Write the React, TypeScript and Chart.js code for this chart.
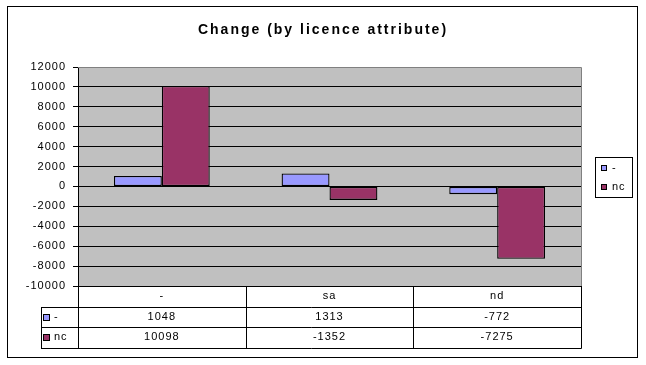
import React, { useEffect, useRef } from "react";
import { Chart, registerables } from "chart.js";

Chart.register(...registerables);

const titleText = "Change (by licence attribute)";
const categories = ["-", "sa", "nd"];
const seriesNames = ["-", "nc"];
const dashValues = [1048, 1313, -772];
const ncValues = [10098, -1352, -7275];
const seriesColors = ["#9999FF", "#993366"];
const Y_MIN = -10000;
const Y_MAX = 12000;
const Y_STEP = 2000;

const FONT = '"Liberation Sans", Arial, sans-serif';

const excelDecor = {
  id: "excelDecor",
  beforeDraw(chart: any) {
    const { ctx, chartArea: a } = chart;
    ctx.save();
    ctx.fillStyle = "#ffffff";
    ctx.fillRect(0, 0, chart.width, chart.height);
    ctx.strokeStyle = "#000000";
    ctx.lineWidth = 1;
    ctx.strokeRect(7.5, 6.5, 630, 351);
    ctx.fillStyle = "#C0C0C0";
    ctx.fillRect(a.left, a.top, a.right - a.left, a.bottom - a.top);
    ctx.restore();
    ctx.letterSpacing = "1px";
  },
  afterDraw(chart: any) {
    const { ctx, chartArea: a } = chart;
    const xs = chart.scales.x;
    ctx.save();
    ctx.letterSpacing = "1px";

    // plot area grey border (top/right)
    ctx.strokeStyle = "#808080";
    ctx.lineWidth = 1;
    ctx.beginPath();
    ctx.moveTo(a.left, Math.round(a.top) + 0.5);
    ctx.lineTo(Math.round(a.right) + 0.5, Math.round(a.top) + 0.5);
    ctx.lineTo(Math.round(a.right) + 0.5, Math.round(a.bottom));
    ctx.stroke();

    // title
    ctx.fillStyle = "#000";
    ctx.font = `bold 14px ${FONT}`;
    ctx.letterSpacing = "2px";
    ctx.textAlign = "center";
    ctx.textBaseline = "middle";
    ctx.fillText(titleText, 323, 30);
    ctx.letterSpacing = "1px";

    // data table
    const n = categories.length;
    const bounds: number[] = [a.left];
    for (let i = 0; i < n - 1; i++) {
      bounds.push((xs.getPixelForValue(i) + xs.getPixelForValue(i + 1)) / 2);
    }
    bounds.push(a.right);
    const rowH = 20.5;
    const t0 = a.bottom;
    const keyLeft = 41;
    const px = (v: number) => Math.round(v) + 0.5;

    ctx.strokeStyle = "#000";
    ctx.beginPath();
    for (let r = 1; r <= 3; r++) {
      const y = px(t0 + r * rowH);
      ctx.moveTo(keyLeft, y);
      ctx.lineTo(px(a.right), y);
    }
    ctx.moveTo(px(keyLeft), px(t0 + rowH));
    ctx.lineTo(px(keyLeft), px(t0 + 3 * rowH));
    for (const b of bounds) {
      ctx.moveTo(px(b), t0);
      ctx.lineTo(px(b), px(t0 + 3 * rowH));
    }
    ctx.stroke();

    ctx.font = `11px ${FONT}`;
    ctx.fillStyle = "#000";
    ctx.textAlign = "center";
    ctx.textBaseline = "middle";
    const rows = [dashValues, ncValues];
    for (let i = 0; i < n; i++) {
      const cx = (bounds[i] + bounds[i + 1]) / 2;
      ctx.fillText(categories[i], cx, t0 + rowH / 2);
      rows.forEach((vals, r) => {
        ctx.fillText(String(vals[i]), cx, t0 + rowH * (r + 1) + rowH / 2);
      });
    }
    // legend keys in table
    seriesNames.forEach((name, r) => {
      const cy = t0 + rowH * (r + 1) + rowH / 2;
      ctx.fillStyle = seriesColors[r];
      ctx.fillRect(43, Math.round(cy) - 3, 7, 7);
      ctx.strokeStyle = "#000";
      ctx.strokeRect(43.5, Math.round(cy) - 2.5, 6, 6);
      ctx.fillStyle = "#000";
      ctx.textAlign = "left";
      ctx.fillText(name, 54, cy);
    });

    // legend
    ctx.strokeStyle = "#000";
    ctx.strokeRect(595.5, 157.5, 37, 40);
    seriesNames.forEach((name, r) => {
      const cy = 168 + r * 19;
      ctx.fillStyle = seriesColors[r];
      ctx.fillRect(601, cy - 3, 6, 6);
      ctx.strokeStyle = "#000";
      ctx.strokeRect(601.5, cy - 2.5, 5, 5);
      ctx.fillStyle = "#000";
      ctx.textAlign = "left";
      ctx.fillText(name, 612, cy);
    });

    ctx.restore();
  },
};

export default function App() {
  const ref = useRef<HTMLCanvasElement | null>(null);
  useEffect(() => {
    if (!ref.current) return;
    const chart = new Chart(ref.current, {
      type: "bar",
      data: {
        labels: categories,
        datasets: [
          {
            label: seriesNames[0],
            data: dashValues,
            backgroundColor: seriesColors[0],
            borderColor: "#000",
            borderWidth: 1.3,
            borderSkipped: false,
          },
          {
            label: seriesNames[1],
            data: ncValues,
            backgroundColor: seriesColors[1],
            borderColor: "#000",
            borderWidth: 1.3,
            borderSkipped: false,
          },
        ],
      },
      options: {
        responsive: false,
        animation: false,
        layout: { padding: { top: 67, left: 0, right: 65, bottom: 79 } },
        plugins: {
          legend: { display: false },
          title: { display: false },
          tooltip: { enabled: false },
        },
        datasets: { bar: { categoryPercentage: 2 / 3.5, barPercentage: 1 } },
        scales: {
          x: {
            ticks: { display: false },
            grid: { display: false },
            border: { display: false },
            afterFit: (s: any) => {
              s.height = 0;
            },
          },
          y: {
            min: Y_MIN,
            max: Y_MAX,
            ticks: {
              stepSize: Y_STEP,
              color: "#000",
              font: { family: FONT, size: 11 },
              padding: 7,
              callback: (v: any) => String(v),
            },
            grid: {
              color: (c: any) => (c.tick && c.tick.value === Y_MAX ? "#808080" : "#000"),
              tickColor: "#000",
              tickLength: 5,
              lineWidth: 1,
            },
            border: { display: true, color: "#000", width: 1 },
            afterFit: (s: any) => {
              s.width = 78;
            },
          },
        },
      },
      plugins: [excelDecor],
    });
    return () => chart.destroy();
  }, []);
  return (
    <div style={{ position: "absolute", left: 0, top: 0, width: 646, height: 365 }}>
      <canvas ref={ref} width={646} height={365} />
    </div>
  );
}
